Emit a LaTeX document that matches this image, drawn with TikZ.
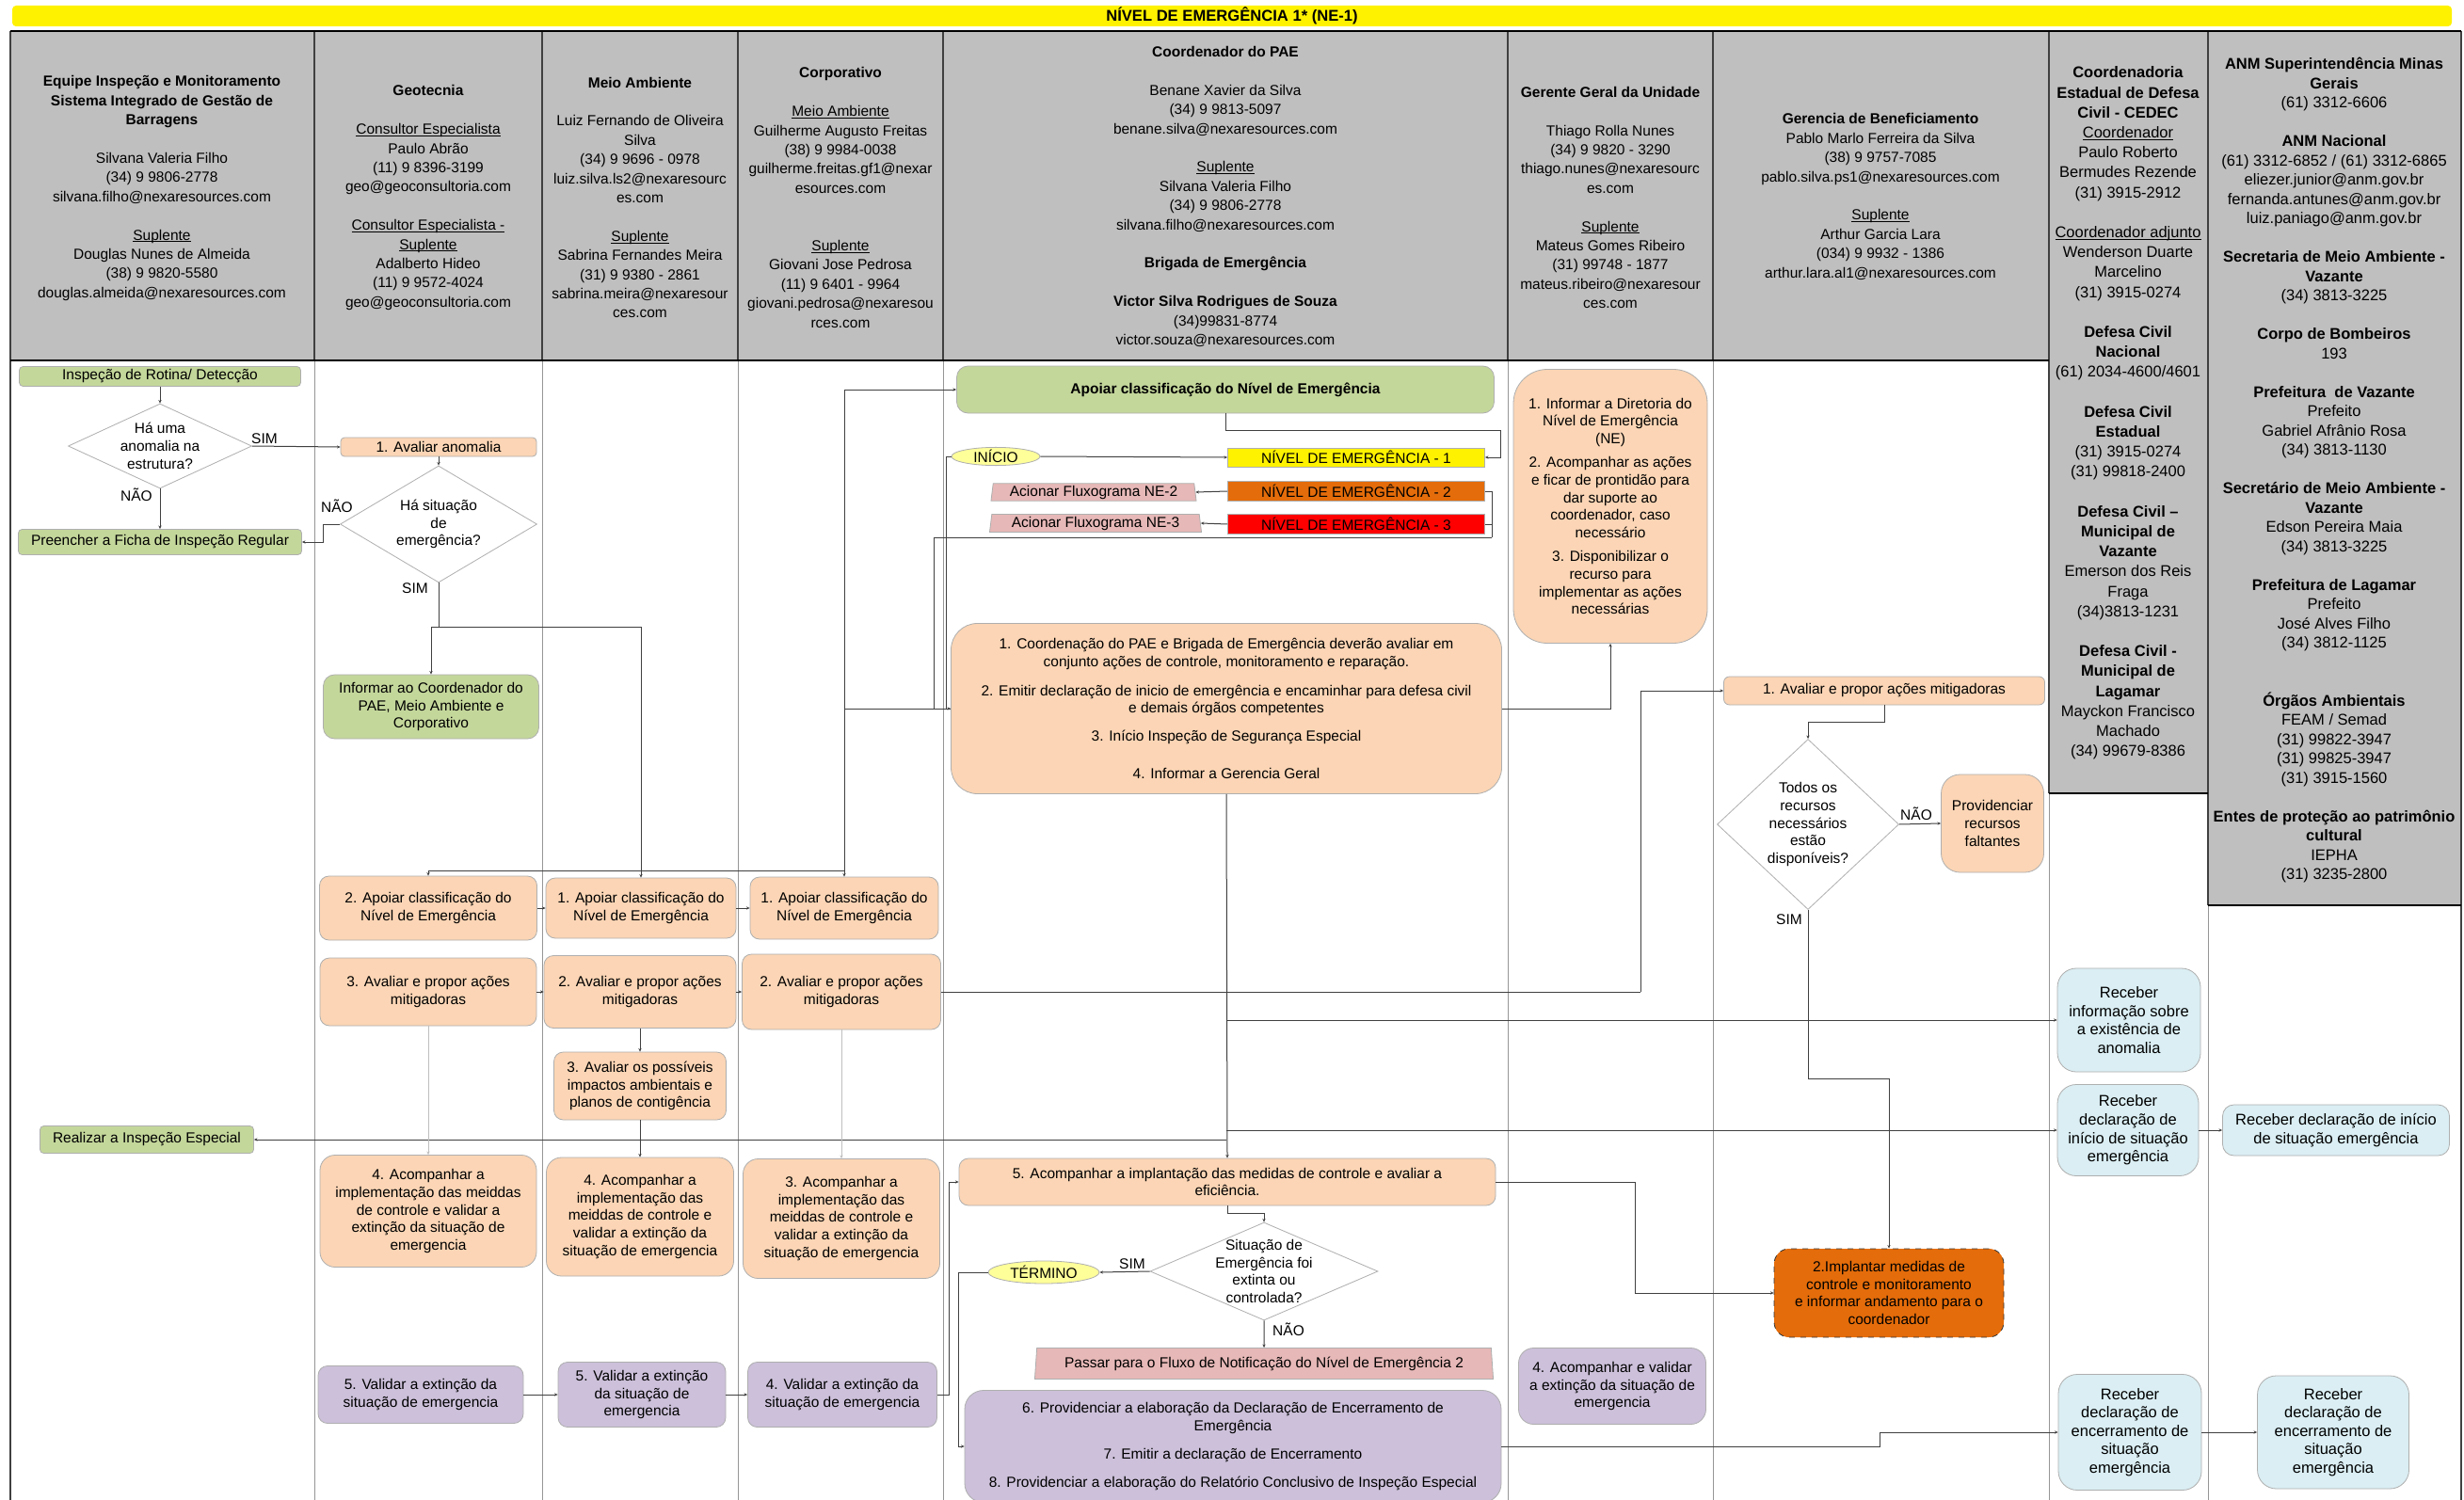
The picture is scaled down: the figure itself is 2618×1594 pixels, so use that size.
\documentclass[tikz,border=0pt]{standalone}
\usepackage{fontspec}
\setmainfont{Liberation Sans}
\usepackage{xcolor}
\usepackage{tikz}
\usetikzlibrary{shapes.geometric,arrows.meta,positioning,calc}

\definecolor{hdrgray}{RGB}{191,191,191}
\definecolor{salmon}{RGB}{251,213,181}
\definecolor{leaf}{RGB}{196,215,155}
\definecolor{lilac}{RGB}{204,192,218}
\definecolor{ice}{RGB}{218,238,243}
\definecolor{rosy}{RGB}{230,184,183}
\definecolor{pumpkin}{RGB}{228,108,10}
\definecolor{lemon}{RGB}{255,255,153}
\definecolor{wirecol}{RGB}{64,64,64}
\definecolor{lanegray}{RGB}{150,150,150}
\definecolor{edgegray}{RGB}{175,175,175}

\newcommand{\gapline}{\\[\baselineskip]}
\newcommand{\undl}[1]{\setbox0\hbox{#1}\rlap{\rule[-1.1pt]{\wd0}{0.45pt}}\box0}
\newcommand{\bodyfont}{\fontsize{7.75}{9.4}\selectfont}
\newcommand{\hdrfont}{\fontsize{7.75}{10.2}\selectfont}
\newcommand{\cedecfont}{\fontsize{8.25}{10.6}\selectfont}
\newcommand{\anmfont}{\fontsize{8.25}{10.25}\selectfont}
\newcommand{\icefont}{\fontsize{8.25}{9.8}\selectfont}

\tikzset{
  pbox/.style={rectangle, draw=edgegray, line width=0.4pt, rounded corners=5pt, align=center, font=\bodyfont, inner sep=1pt},
  salbox/.style={pbox, fill=salmon},
  leafbox/.style={pbox, fill=leaf, rounded corners=2pt},
  lilacbox/.style={pbox, fill=lilac},
  icebox/.style={pbox, fill=ice, font=\icefont, rounded corners=10pt},
  nebox/.style={rectangle, draw=edgegray, line width=0.4pt, font=\bodyfont, inner sep=0pt},
  decision/.style={diamond, draw=edgegray, line width=0.4pt, fill=white, inner sep=0pt},
  terminal/.style={ellipse, draw=edgegray, line width=0.4pt, fill=lemon, inner sep=0pt, font=\bodyfont},
  flowtag/.style={trapezium, trapezium left angle=84, trapezium right angle=84, trapezium stretches=true, draw=edgegray, line width=0.4pt, fill=rosy, font=\bodyfont, inner sep=1pt},
  sz/.style 2 args={minimum width=#1*0.5pt, minimum height=#2*0.5pt},
  link/.style={draw=wirecol, line width=0.5pt},
  wire/.style={link, -{Stealth[length=1.8pt,width=1.6pt]}},
  faintwire/.style={draw=black!25, line width=0.5pt, -{Stealth[length=1.8pt,width=1.6pt]}},
  lbl/.style={font=\bodyfont, inner sep=0pt},
  hdr/.style={align=center, font=\hdrfont, inner sep=0pt},
}

\begin{document}
\begin{tikzpicture}[x=0.5pt, y=-0.5pt]
\useasboundingbox (0,0) rectangle (2618,1594);
\fill[white] (0,0) rectangle (2618,1594);

% title bar
\node[fill=yellow, rounded corners=2pt, sz={2592}{22}, inner sep=0pt, font=\fontsize{8.3}{10}\selectfont\bfseries] (titlebar) at (1309,17) {NÍVEL DE EMERGÊNCIA 1* (NE-1)};

% header cells
\fill[hdrgray] (11,33) rectangle (2177,383);
\fill[hdrgray] (2177,33) rectangle (2346,843);
\fill[hdrgray] (2346,33) rectangle (2615,962);

% lanes
\foreach \x in {334,576,784,1002,1602,1820,2177,2346}
  \draw[lanegray, line width=0.5pt] (\x,33) -- (\x,1594);
\foreach \x in {334,576,784,1002,1602,1820}
  \draw[black!75, line width=0.8pt] (\x,33) -- (\x,383);
\draw[black!75, line width=0.8pt] (2177,33) -- (2177,843);
\draw[black!75, line width=0.8pt] (2346,33) -- (2346,962);
\draw[black!75, line width=0.8pt] (11,33) -- (11,1594);
\draw[black!75, line width=0.8pt] (2615,33) -- (2615,1594);
\draw[black, line width=1pt] (11,33) -- (2615,33);
\draw[black, line width=1pt] (11,383) -- (2177,383);
\draw[black, line width=1pt] (2177,843) -- (2346,843);
\draw[black, line width=1pt] (2346,962) -- (2615,962);

% header texts
\node[hdr] (h1) at (172,200) {\textbf{Equipe Inspeção e Monitoramento}\\\textbf{Sistema Integrado de Gestão de}\\\textbf{Barragens}\gapline Silvana Valeria Filho\\(34) 9 9806-2778\\silvana.filho@nexaresources.com\gapline\undl{Suplente}\\Douglas Nunes de Almeida\\(38) 9 9820-5580\\douglas.almeida@nexaresources.com};
\node[hdr] (h2) at (455,210) {\textbf{Geotecnia}\gapline\undl{Consultor Especialista}\\Paulo Abrão\\(11) 9 8396-3199\\geo@geoconsultoria.com\gapline\undl{Consultor Especialista -}\\\undl{Suplente}\\Adalberto Hideo\\(11) 9 9572-4024\\geo@geoconsultoria.com};
\node[hdr] (h3) at (680,210) {\textbf{Meio Ambiente}\gapline Luiz Fernando de Oliveira\\Silva\\(34) 9 9696 - 0978\\luiz.silva.ls2@nexaresourc\\es.com\gapline\undl{Suplente}\\Sabrina Fernandes Meira\\(31) 9 9380 - 2861\\sabrina.meira@nexaresour\\ces.com};
\node[hdr] (h4) at (893,210) {\textbf{Corporativo}\gapline\undl{Meio Ambiente}\\Guilherme Augusto Freitas\\(38) 9 9984-0038\\guilherme.freitas.gf1@nexar\\esources.com\\[2\baselineskip]\undl{Suplente}\\Giovani Jose Pedrosa\\(11) 9 6401 - 9964\\giovani.pedrosa@nexaresou\\rces.com};
\node[hdr] (h5) at (1302,209) {\textbf{Coordenador do PAE}\gapline Benane Xavier da Silva\\(34) 9 9813-5097\\benane.silva@nexaresources.com\gapline\undl{Suplente}\\Silvana Valeria Filho\\(34) 9 9806-2778\\silvana.filho@nexaresources.com\gapline\textbf{Brigada de Emergência}\gapline\textbf{Victor Silva Rodrigues de Souza}\\(34)99831-8774\\victor.souza@nexaresources.com};
\node[hdr] (h6) at (1711,210) {\textbf{Gerente Geral da Unidade}\gapline Thiago Rolla Nunes\\(34) 9 9820 - 3290\\thiago.nunes@nexaresourc\\es.com\gapline\undl{Suplente}\\Mateus Gomes Ribeiro\\(31) 99748 - 1877\\mateus.ribeiro@nexaresour\\ces.com};
\node[hdr] (h7) at (1998,209) {\textbf{Gerencia de Beneficiamento}\\Pablo Marlo Ferreira da Silva\\(38) 9 9757-7085\\pablo.silva.ps1@nexaresources.com\gapline\undl{Suplente}\\Arthur Garcia Lara\\(034) 9 9932 - 1386\\arthur.lara.al1@nexaresources.com};
\node[hdr, font=\cedecfont] (h8) at (2261,439) {\textbf{Coordenadoria}\\\textbf{Estadual de Defesa}\\\textbf{Civil - CEDEC}\\\undl{Coordenador}\\Paulo Roberto\\Bermudes Rezende\\(31) 3915-2912\gapline\undl{Coordenador adjunto}\\Wenderson Duarte\\Marcelino\\(31) 3915-0274\gapline\textbf{Defesa Civil}\\\textbf{Nacional}\\(61) 2034-4600/4601\gapline\textbf{Defesa Civil}\\\textbf{Estadual}\\(31) 3915-0274\\(31) 99818-2400\gapline\textbf{Defesa Civil –}\\\textbf{Municipal de}\\\textbf{Vazante}\\Emerson dos Reis\\Fraga\\(34)3813-1231\gapline\textbf{Defesa Civil -}\\\textbf{Municipal de}\\\textbf{Lagamar}\\Mayckon Francisco\\Machado\\(34) 99679-8386};
\node[hdr, font=\anmfont] (h9) at (2480,500) {\textbf{ANM Superintendência Minas}\\\textbf{Gerais}\\(61) 3312-6606\gapline\textbf{ANM Nacional}\\(61) 3312-6852 / (61) 3312-6865\\eliezer.junior@anm.gov.br\\fernanda.antunes@anm.gov.br\\luiz.paniago@anm.gov.br\gapline\textbf{Secretaria de Meio Ambiente -}\\\textbf{Vazante}\\(34) 3813-3225\gapline\textbf{Corpo de Bombeiros}\\193\gapline\textbf{Prefeitura\ \ de Vazante}\\Prefeito\\Gabriel Afrânio Rosa\\(34) 3813-1130\gapline\textbf{Secretário de Meio Ambiente -}\\\textbf{Vazante}\\Edson Pereira Maia\\(34) 3813-3225\gapline\textbf{Prefeitura de Lagamar}\\Prefeito\\José Alves Filho\\(34) 3812-1125\\[2\baselineskip]\textbf{Órgãos Ambientais}\\FEAM / Semad\\(31) 99822-3947\\(31) 99825-3947\\(31) 3915-1560\gapline\textbf{Entes de proteção ao patrimônio}\\\textbf{cultural}\\IEPHA\\(31) 3235-2800};

% equipe inspecao
\node[leafbox, sz={299}{21}] (rotina) at (170,400) {Inspeção de Rotina/ Detecção};
\node[decision, sz={195}{90}, label={[lbl,align=center]center:Há uma\\anomalia na\\estrutura?}] (dec1) at (170,474) {};
\node[leafbox, sz={301}{27}] (ficha) at (170,576) {Preencher a Ficha de Inspeção Regular};
\node[leafbox, sz={227}{29}] (especial) at (156,1211) {Realizar a Inspeção Especial};

% geotecnia
\node[salbox, sz={208}{20}, rounded corners=2pt] (avaliar) at (466,475) {1. Avaliar anomalia};
\node[decision, sz={209}{124}, label={[lbl,align=center]center:Há situação\\de\\emergência?}] (dec2) at (466,557) {};
\node[leafbox, sz={229}{68}, rounded corners=6pt] (informar) at (458,751) {Informar ao Coordenador do\\PAE, Meio Ambiente e\\Corporativo};
\node[salbox, sz={231}{68}] (geoapoiar) at (455,965) {2. Apoiar classificação do\\Nível de Emergência};
\node[salbox, sz={230}{72}] (geomit) at (455,1054) {3. Avaliar e propor ações\\mitigadoras};
\node[salbox, sz={230}{119}, rounded corners=8pt] (geoacomp) at (455,1287) {4. Acompanhar a\\implementação das meiddas\\de controle e validar a\\extinção da situação de\\emergencia};
\node[lilacbox, sz={218}{61}] (geoval) at (447,1482) {5. Validar a extinção da\\situação de emergencia};

% meio ambiente
\node[salbox, sz={202}{64}] (maapoiar) at (681,965) {1. Apoiar classificação do\\Nível de Emergência};
\node[salbox, sz={204}{77}] (mamit) at (680,1054) {2. Avaliar e propor ações\\mitigadoras};
\node[salbox, sz={183}{72}] (maimp) at (680,1154) {3. Avaliar os possíveis\\impactos ambientais e\\planos de contigência};
\node[salbox, sz={199}{126}, rounded corners=8pt] (maacomp) at (680,1293) {4. Acompanhar a\\implementação das\\meiddas de controle e\\validar a extinção da\\situação de emergencia};
\node[lilacbox, sz={178}{69}] (maval) at (682,1482) {5. Validar a extinção\\da situação de\\emergencia};

% corporativo
\node[salbox, sz={200}{66}] (coapoiar) at (897,965) {1. Apoiar classificação do\\Nível de Emergência};
\node[salbox, sz={211}{80}] (comit) at (894,1054) {2. Avaliar e propor ações\\mitigadoras};
\node[salbox, sz={209}{127}, rounded corners=8pt] (coacomp) at (894,1295) {3. Acompanhar a\\implementação das\\meiddas de controle e\\validar a extinção da\\situação de emergencia};
\node[lilacbox, sz={201}{69}] (coval) at (895,1482) {4. Validar a extinção da\\situação de emergencia};

% coordenador do PAE
\node[leafbox, sz={571}{50}, rounded corners=6pt, font=\bodyfont\bfseries] (apoiarpae) at (1302,414) {Apoiar classificação do Nível de Emergência};
\node[terminal, sz={94}{19}] (inicio) at (1058,485) {INÍCIO};
\node[nebox, fill=yellow, sz={273}{20}] (ne1) at (1441,486) {NÍVEL DE EMERGÊNCIA - 1};
\node[nebox, fill=pumpkin, sz={273}{21}] (ne2) at (1441,522) {NÍVEL DE EMERGÊNCIA - 2};
\node[nebox, fill=red, sz={273}{21}] (ne3) at (1441,557) {NÍVEL DE EMERGÊNCIA - 3};
\node[flowtag, sz={219}{18}] (acne2) at (1162,523) {Acionar Fluxograma NE-2};
\node[flowtag, sz={226}{19}] (acne3) at (1164,556) {Acionar Fluxograma NE-3};
\node[salbox, sz={585}{181}, rounded corners=14pt] (coord) at (1303,753) {1. Coordenação do PAE e Brigada de Emergência deverão avaliar em\\conjunto ações de controle, monitoramento e reparação.\\[6pt]2. Emitir declaração de inicio de emergência e encaminhar para defesa civil\\e demais órgãos competentes\\[5.5pt]3. Início Inspeção de Segurança Especial\\[10.5pt]4. Informar a Gerencia Geral};
\node[salbox, sz={570}{50}] (acomp5) at (1304,1256) {5. Acompanhar a implantação das medidas de controle e avaliar a\\eficiência.};
\node[decision, sz={242}{104}, label={[lbl,align=center]center:Situação de\\Emergência foi\\extinta ou\\controlada?}] (dec4) at (1343,1351) {};
\node[terminal, sz={118}{24}] (termino) at (1109,1352) {TÉRMINO};
\node[flowtag, sz={488}{33}] (passar) at (1343,1449) {Passar para o Fluxo de Notificação do Nível de Emergência 2};
\node[lilacbox, sz={570}{119}, rounded corners=10pt] (encerr) at (1310,1537) {6. Providenciar a elaboração da Declaração de Encerramento de\\Emergência\\[5.5pt]7. Emitir a declaração de Encerramento\\[5.5pt]8. Providenciar a elaboração do Relatório Conclusivo de Inspeção Especial};

% gerente geral
\node[salbox, sz={206}{291}, rounded corners=18pt] (gerente) at (1711,538) {1. Informar a Diretoria do\\Nível de Emergência\\(NE)\\[3pt]2. Acompanhar as ações\\e ficar de prontidão para\\dar suporte ao\\coordenador, caso\\necessário\\[3pt]3. Disponibilizar o\\recurso para\\implementar as ações\\necessárias};
\node[lilacbox, sz={199}{81}, rounded corners=8pt] (valgg) at (1713,1473) {4. Acompanhar e validar\\a extinção da situação de\\emergencia};

% beneficiamento
\node[salbox, sz={341}{30}, rounded corners=3pt] (mitig) at (2002,734) {1. Avaliar e propor ações mitigadoras};
\node[decision, sz={193}{181}, label={[lbl,align=center]center:Todos os\\recursos\\necessários\\estão\\disponíveis?}] (dec3) at (1921,876) {};
\node[salbox, sz={109}{104}, rounded corners=10pt] (faltantes) at (2117,875) {Providenciar\\recursos\\faltantes};
\node[pbox, fill=pumpkin, draw=black!80, dashed, sz={244}{94}, rounded corners=8pt] (implantar) at (2007,1374) {2.Implantar medidas de\\controle e monitoramento\\e informar andamento para o\\coordenador};

% orgaos externos
\node[icebox, sz={152}{110}] (recinfo) at (2262,1084) {Receber\\informação sobre\\a existência de\\anomalia};
\node[icebox, sz={150}{97}] (recini) at (2261,1201) {Receber\\declaração de\\início de situação\\emergência};
\node[icebox, sz={241}{54}, rounded corners=6pt] (recini2) at (2482,1201) {Receber declaração de início\\de situação emergência};
\node[icebox, sz={152}{123}] (recenc) at (2263,1522) {Receber\\declaração de\\encerramento de\\situação\\emergência};
\node[icebox, sz={161}{120}] (recenc2) at (2479,1522) {Receber\\declaração de\\encerramento de\\situação\\emergência};

% decision labels
\node[lbl] (simA) at (281,466) {SIM};
\node[lbl] (naoA) at (145,526) {NÃO};
\node[lbl] (naoB) at (358,538) {NÃO};
\node[lbl] (simB) at (441,625) {SIM};
\node[lbl] (naoC) at (2036,865) {NÃO};
\node[lbl] (simC) at (1901,977) {SIM};
\node[lbl] (simD) at (1203,1343) {SIM};
\node[lbl] (naoD) at (1369,1413) {NÃO};

% connectors
\coordinate (j1) at (466,666);
\coordinate (bus) at (681,925);
\coordinate (k1) at (992,753);
\coordinate (nebus) at (1585,571);
\coordinate (b1) at (1594,457);
\coordinate (m1) at (1743,1054);

\draw[wire] (rotina.south) -- (dec1.north);
\draw[wire] (dec1.east) -- (avaliar.west);
\draw[wire] (dec1.south) -- (ficha.north);
\draw[wire] (avaliar.south) -- (dec2.north);
\draw[wire] (dec2.west) -- ++(-18,0) |- (ficha.east);
\draw[link] (dec2.south) -- (j1);
\draw[wire] (j1) -| (informar.north);
\draw[link] (j1) -| (bus);
\draw[wire] (bus) -| (geoapoiar.north);
\draw[wire] (bus) -- (maapoiar.north);
\draw[wire] (bus) -| (coapoiar.north);
\draw[wire] (bus -| coapoiar.north) |- (apoiarpae.west);
\draw[link] (ne2.east) -| (nebus);
\draw[link] (ne3.east) -| (nebus);
\draw[link] (nebus) -| (k1);
\draw[wire] (k1) -- (coord.west);
\draw[link] (k1) -- (k1 -| coapoiar.north);
\draw[wire] (inicio.east) -- (ne1.west);
\draw[link] (inicio.west) -- ++(-5,0) |- (coord.west);
\draw[wire] (apoiarpae.south) |- (b1) |- (ne1.east);
\draw[wire] (ne2.west) -- (acne2.east);
\draw[wire] (ne3.west) -- (acne3.east);
\draw[wire] (coord.east) -| (gerente.south);
\draw[link] (comit.east) -- (m1);
\draw[wire] (m1) |- (mitig.west);
\draw[wire] (mitig.south) -- ++(0,18) -| (dec3.north);
\draw[wire] (dec3.east) -- (faltantes.west);
\draw[wire] (dec3.south) -- ++(0,180) -| (implantar.north);
\draw[wire] (coord.south) -- (acomp5.north);
\draw[wire] (recinfo.west -| coord.south) -- (recinfo.west);
\draw[wire] (recini.west -| coord.south) -- (recini.west);
\draw[wire] (especial.east -| coord.south) -- (especial.east);
\draw[wire] (recini.east) -- (recini2.west);
\draw[wire] (acomp5.east) -- ++(148,0) |- (implantar.west);
\draw[wire] (acomp5.south) -- ++(0,8) -| (dec4.north);
\draw[wire] (dec4.west) -- (termino.east);
\draw[wire] (dec4.south) -- (passar.north);
\draw[wire] (termino.west) -- ++(-31,0) |- (encerr.west);
\draw[wire] (coval.east) -- ++(13,0) |- (acomp5.west);
\draw[wire] (encerr.east) -- ++(402,0) |- (recenc.west);
\draw[wire] (recenc.east) -- (recenc2.west);
\draw[wire] (geoapoiar.east) -- (maapoiar.west);
\draw[wire] (maapoiar.east) -- (coapoiar.west);
\draw[wire] (geomit.east) -- (mamit.west);
\draw[wire] (mamit.east) -- (comit.west);
\draw[wire] (mamit.south) -- (maimp.north);
\draw[wire] (maimp.south) -- (maacomp.north);
\draw[faintwire] (geomit.south) -- (geoacomp.north);
\draw[faintwire] (comit.south) -- (coacomp.north);
\draw[wire] (geoval.east) -- (maval.west);
\draw[wire] (maval.east) -- (coval.west);
\end{tikzpicture}
\end{document}
